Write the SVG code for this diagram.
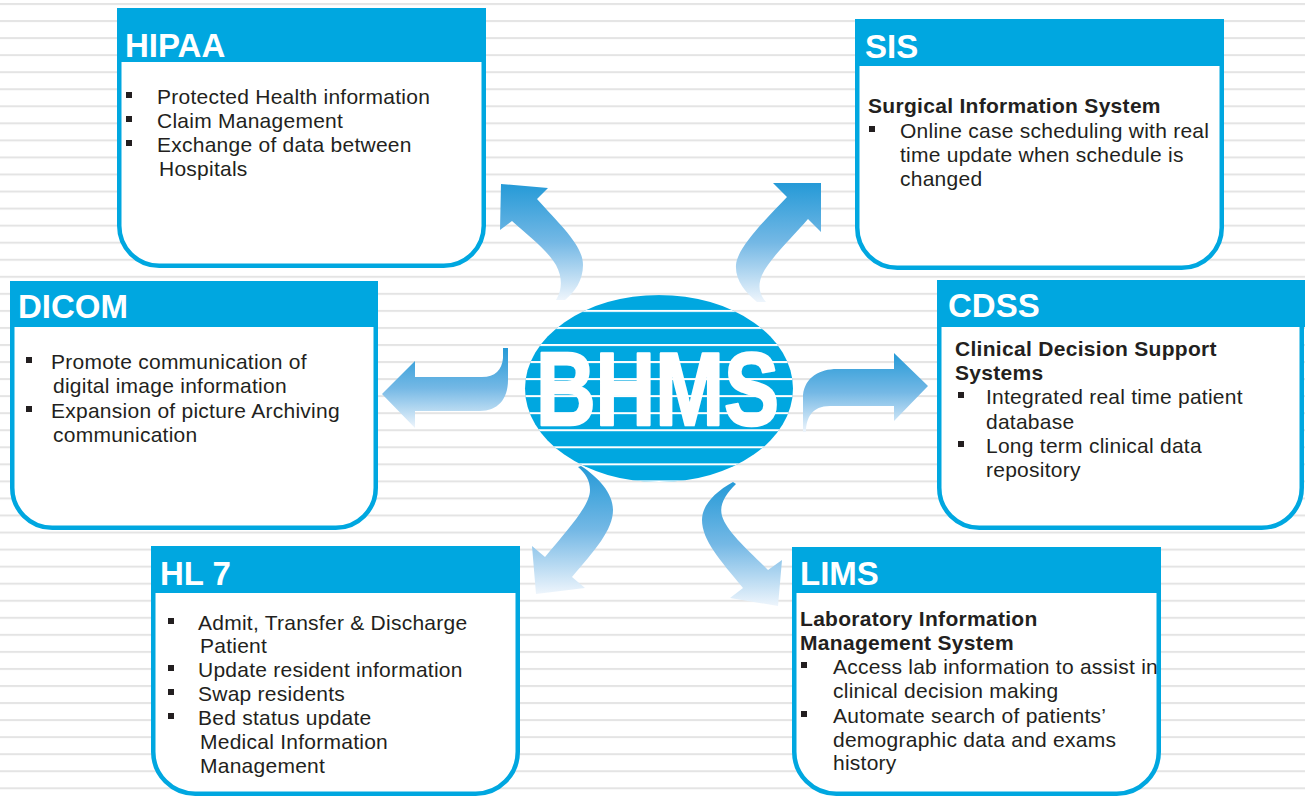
<svg xmlns="http://www.w3.org/2000/svg" width="1305" height="796" viewBox="0 0 1305 796">
<defs>
<style>
.hdr{fill:#00a7e0}
.body{fill:#ffffff;stroke:#00a7e0;stroke-width:4.5}
.ttl{font-family:"Liberation Sans",Arial,sans-serif;font-weight:bold;font-size:33px;fill:#ffffff}
.txt{font-family:"Liberation Sans",Arial,sans-serif;font-size:21px;fill:#231f20;letter-spacing:0.25px}
.bld{font-family:"Liberation Sans",Arial,sans-serif;font-size:21px;font-weight:bold;fill:#231f20;letter-spacing:0.3px}
.bul{fill:#231f20}
.arrow{fill:url(#ag)}
</style>
<pattern id="gstripes" patternUnits="userSpaceOnUse" x="0" y="3" width="1305" height="17.05">
<rect x="0" y="0" width="1305" height="2" fill="#e4e4e4"/>
</pattern>
<pattern id="wstripes" patternUnits="userSpaceOnUse" x="0" y="3" width="1305" height="17.05">
<rect x="0" y="0" width="1305" height="2" fill="#ffffff"/>
</pattern>
<linearGradient id="ag" x1="0" y1="0" x2="0" y2="1">
<stop offset="0" stop-color="#259ad7"/>
<stop offset="0.5" stop-color="#74b8e5"/>
<stop offset="1" stop-color="#eef5fc"/>
</linearGradient>
</defs>
<rect width="1305" height="796" fill="#ffffff"/>
<rect width="1305" height="796" fill="url(#gstripes)"/>

<g id="BHMS">
<ellipse cx="659" cy="388.5" rx="134" ry="93.5" fill="#00a7e0"/>
<ellipse cx="659" cy="388.5" rx="134" ry="93.5" fill="url(#wstripes)"/>
<text x="536" y="425" font-family="'Liberation Sans',Arial,sans-serif" font-weight="bold" font-size="104" fill="#ffffff" stroke="#ffffff" stroke-width="2.5" stroke-linejoin="round" textLength="243" lengthAdjust="spacingAndGlyphs">BHMS</text>
</g>

<g id="connectors">
<path class="arrow" d="M501,184 L548,188 L537,199 C560,225 583,245 583,265 C583,280 575,292 565,300 L556,300 C562,290 563,278 556,265 C547,250 530,237 512,221 L500,230 Z"/>
<path class="arrow" d="M821,183 L821,232 L808,219 C790,240 770,258 762,275 C757,287 760,295 766,302 L757,302 C745,292 735,280 736,265 C737,248 765,220 787,197 L773,183 Z"/>
<path class="arrow" d="M382,394 L415,361 L415,377 L482,377 C495,377 502,370 503,358 L503,348 L508,348 L508,380 C508,400 497,411 480,411 L415,411 L415,428 Z"/>
<path class="arrow" d="M928,386 L894,353 L894,369 L837,369 C820,369 805,377 803,395 L803,432 L806,432 C806,418 812,406 830,406 L894,406 L894,421 Z"/>
<path class="arrow" d="M536,594 L532,546 L545,557 C570,527 590,505 590,490 C590,480 585,473 578,467 L581,466 C598,477 613,493 613,510 C613,530 595,550 572,577 L585,588 Z"/>
<path class="arrow" d="M778,606 L730,598 L743,588 C720,560 702,540 702,520 C702,505 715,492 733,482 L736,484 C725,495 719,505 722,516 C727,532 748,550 768,570 L782,560 Z"/>
</g>

<g id="HIPAA">
<path class="body" d="M119.25,60 V225.75 A40,40 0 0 0 159.25,265.75 H443.75 A40,40 0 0 0 483.75,225.75 V60"/>
<rect class="hdr" x="117" y="8" width="369" height="54"/>
<text class="ttl" x="125" y="57">HIPAA</text>
<rect class="bul" x="126" y="92" width="6" height="6"/>
<rect class="bul" x="126" y="116" width="6" height="6"/>
<rect class="bul" x="126" y="140" width="6" height="6"/>
<text class="txt" x="157" y="104">Protected Health information</text>
<text class="txt" x="157" y="128">Claim Management</text>
<text class="txt" x="157" y="152">Exchange of data between</text>
<text class="txt" x="159" y="176">Hospitals</text>
</g>

<g id="SIS">
<path class="body" d="M857.25,64 V227.75 A40,40 0 0 0 897.25,267.75 H1181.75 A40,40 0 0 0 1221.75,227.75 V64"/>
<rect class="hdr" x="855" y="19" width="369" height="47"/>
<text class="ttl" x="865" y="58">SIS</text>
<text class="bld" x="868" y="113">Surgical Information System</text>
<rect class="bul" x="869" y="126" width="6" height="6"/>
<text class="txt" x="900" y="138">Online case scheduling with real</text>
<text class="txt" x="900" y="162">time update when schedule is</text>
<text class="txt" x="900" y="186">changed</text>
</g>

<g id="DICOM">
<path class="body" d="M12.25,326 V487.75 A40,40 0 0 0 52.25,527.75 H335.75 A40,40 0 0 0 375.75,487.75 V326"/>
<rect class="hdr" x="10" y="281" width="368" height="46"/>
<text class="ttl" x="18" y="318">DICOM</text>
<rect class="bul" x="26" y="357" width="6" height="6"/>
<rect class="bul" x="26" y="406" width="6" height="6"/>
<text class="txt" x="51" y="369">Promote communication of</text>
<text class="txt" x="53" y="393">digital image information</text>
<text class="txt" x="51" y="418">Expansion of picture Archiving</text>
<text class="txt" x="53" y="442">communication</text>
</g>

<g id="CDSS">
<path class="body" d="M939.25,326 V487.75 A40,40 0 0 0 979.25,527.75 H1261.75 A40,40 0 0 0 1301.75,487.75 V326"/>
<rect class="hdr" x="937" y="280" width="368" height="47"/>
<text class="ttl" x="948" y="317">CDSS</text>
<text class="bld" x="955" y="356">Clinical Decision Support</text>
<text class="bld" x="955" y="380">Systems</text>
<rect class="bul" x="958" y="392" width="6" height="6"/>
<rect class="bul" x="958" y="441" width="6" height="6"/>
<text class="txt" x="986" y="404">Integrated real time patient</text>
<text class="txt" x="986" y="429">database</text>
<text class="txt" x="986" y="453">Long term clinical data</text>
<text class="txt" x="986" y="477">repository</text>
</g>

<g id="HL7">
<path class="body" d="M153.25,591 V751.75 A42,42 0 0 0 195.25,793.75 H475.75 A42,42 0 0 0 517.75,751.75 V591"/>
<rect class="hdr" x="151" y="546" width="369" height="47"/>
<text class="ttl" x="160" y="585">HL 7</text>
<rect class="bul" x="168" y="618" width="6" height="6"/>
<rect class="bul" x="168" y="665" width="6" height="6"/>
<rect class="bul" x="168" y="689" width="6" height="6"/>
<rect class="bul" x="168" y="713" width="6" height="6"/>
<text class="txt" x="198" y="630">Admit, Transfer &amp; Discharge</text>
<text class="txt" x="200" y="653">Patient</text>
<text class="txt" x="198" y="677">Update resident information</text>
<text class="txt" x="198" y="701">Swap residents</text>
<text class="txt" x="198" y="725">Bed status update</text>
<text class="txt" x="200" y="749">Medical Information</text>
<text class="txt" x="200" y="773">Management</text>
</g>

<g id="LIMS">
<path class="body" d="M794.25,591 V751.75 A42,42 0 0 0 836.25,793.75 H1116.75 A42,42 0 0 0 1158.75,751.75 V591"/>
<rect class="hdr" x="792" y="547" width="369" height="46"/>
<text class="ttl" x="800" y="585">LIMS</text>
<text class="bld" x="800" y="626">Laboratory Information</text>
<text class="bld" x="800" y="650">Management System</text>
<rect class="bul" x="801" y="662" width="6" height="6"/>
<rect class="bul" x="801" y="711" width="6" height="6"/>
<text class="txt" x="833" y="674">Access lab information to assist in</text>
<text class="txt" x="833" y="698">clinical decision making</text>
<text class="txt" x="833" y="723">Automate search of patients’</text>
<text class="txt" x="833" y="747">demographic data and exams</text>
<text class="txt" x="833" y="770">history</text>
</g>
</svg>
